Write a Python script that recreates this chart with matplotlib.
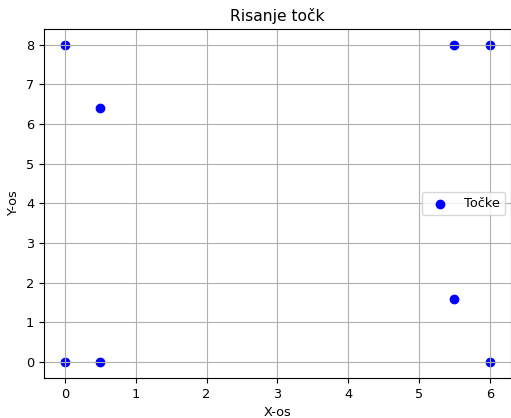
import matplotlib
matplotlib.use('Agg')
import matplotlib.pyplot as plt

# coordinates of the points
x = [0, 0.5, 5.5, 6, 0, 0.5, 5.5, 6]
y = [8, 6.4, 8, 8, 0, 0, 1.6, 0]

plt.rcParams['font.size'] = 9.3

fig = plt.figure(figsize=(5.11, 4.18), dpi=100)
ax = fig.add_axes([0.0857, 0.0957, 0.9143, 0.835])

ax.scatter(x, y, color='blue', label='Točke')
ax.set_title('Risanje točk', fontsize=11.2)
ax.set_xlabel('X-os')
ax.set_ylabel('Y-os')
ax.grid(True)
ax.legend(loc='center right')

fig.savefig('out.png', dpi=100)
